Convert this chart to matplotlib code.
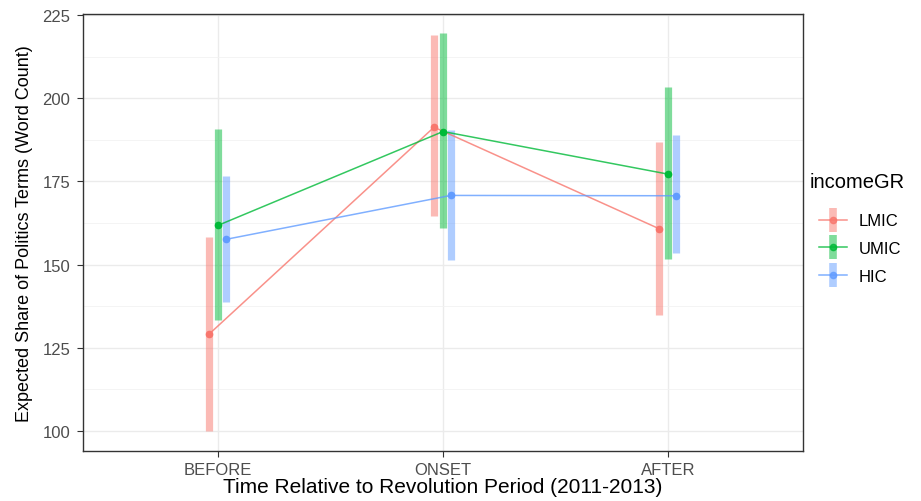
import numpy as np
import matplotlib.pyplot as plt
from matplotlib.lines import Line2D
from matplotlib.legend_handler import HandlerTuple
from matplotlib.ticker import MultipleLocator

plt.rcParams['font.family'] = ['Liberation Sans', 'DejaVu Sans']

# estimates per period and income group
periods = ['BEFORE', 'ONSET', 'AFTER']
groups = ['LMIC', 'UMIC', 'HIC']
colors = ['#F8766D', '#00BA38', '#619CFF']

est = {
    'LMIC': [129.1, 191.3, 160.8],
    'UMIC': [161.8, 190.0, 177.2],
    'HIC':  [157.6, 170.8, 170.7],
}
lower = {
    'LMIC': [100.1, 164.5, 134.9],
    'UMIC': [133.4, 161.1, 151.6],
    'HIC':  [138.8, 151.4, 153.4],
}
upper = {
    'LMIC': [158.4, 219.0, 186.8],
    'UMIC': [190.7, 219.7, 203.5],
    'HIC':  [176.7, 190.5, 189.0],
}

W, H = 921, 502
fig = plt.figure(figsize=(W / 100, H / 100), dpi=100)
ax = fig.add_axes([0.0901, 0.0996, 0.872 - 0.0901, 0.970 - 0.0996])

x = np.arange(1, len(periods) + 1)
offsets = [-0.04, 0.0, 0.035]

handles = []
for g, c, off in zip(groups, colors, offsets):
    xs = x + off
    ax.vlines(xs, lower[g], upper[g], color=c, alpha=0.5, linewidth=5.2, zorder=2)
    ax.plot(xs, est[g], color=c, alpha=0.8, linewidth=1.1, zorder=3)
    ax.plot(xs, est[g], 'o', color=c, markersize=4.5, zorder=4)
    bar = Line2D([], [], marker='|', markersize=17, markeredgewidth=5.5,
                 color=c, alpha=0.5, linestyle='none')
    ln = Line2D([], [], color=c, alpha=0.8, linewidth=1.1, marker='o', markersize=4.5)
    handles.append((bar, ln))

ax.set_xlim(0.4, 3.6)
ax.set_ylim(94.0, 225.3)
ax.set_xticks(x)
ax.set_xticklabels(periods)
ax.yaxis.set_major_locator(MultipleLocator(25))
ax.yaxis.set_minor_locator(MultipleLocator(12.5))

ax.grid(which='major', color='#EBEBEB', linewidth=1.0, zorder=0)
ax.grid(which='minor', axis='y', color='#F2F2F2', linewidth=0.6, zorder=0)
ax.set_axisbelow(True)
for s in ax.spines.values():
    s.set_color('#333333')
    s.set_linewidth(1.0)
ax.tick_params(axis='both', which='major', length=4, color='#333333',
               labelsize=12, labelcolor='#4D4D4D')
ax.tick_params(axis='y', which='major', pad=5)
ax.tick_params(axis='x', which='major', pad=4)
ax.tick_params(axis='y', which='minor', length=0)

ax.set_xlabel('Time Relative to Revolution Period (2011-2013)', fontsize=15, labelpad=0)
ax.set_ylabel('Expected Share of Politics Terms (Word Count)', fontsize=13, labelpad=7)

# legend title drawn on its own so the gap below it can be set freely
fig.text(810 / W, 1 - 182 / H, 'incomeGR', fontsize=14.5, ha='left', va='center')
ax.legend(handles, groups, handler_map={tuple: HandlerTuple(ndivide=1)},
          loc='upper left', bbox_to_anchor=(0.8727, 0.6026),
          bbox_transform=fig.transFigure, frameon=False, fontsize=12,
          handlelength=1.7, handletextpad=0.7, labelspacing=0.77)

fig.savefig('out.png', dpi=100)
